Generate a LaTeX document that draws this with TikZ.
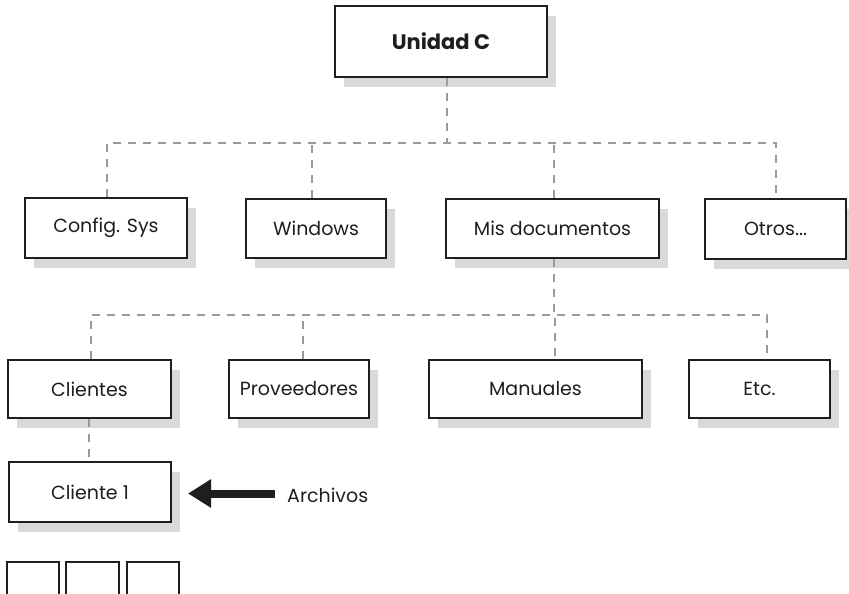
\documentclass[tikz,border=0pt]{standalone}
\usepackage{fontspec}
\setmainfont{Poppins}
\usetikzlibrary{shadows,arrows.meta}
\definecolor{inkc}{HTML}{1E1E1E}
\definecolor{shadowc}{HTML}{D9D9DA}
\definecolor{linec}{HTML}{9A9A9A}
\tikzset{
  box/.style={draw=inkc, line width=2pt, fill=white, inner sep=0pt, text=inkc,
    font=\fontsize{19}{21}\selectfont,
    general shadow={fill=shadowc, shadow xshift=9pt, shadow yshift=-10pt}},
  plainbox/.style={draw=inkc, line width=2pt, fill=white, inner sep=0pt},
  conn/.style={draw=linec, line width=1.4pt, dash pattern=on 8pt off 7pt},
  bigarrow/.style={draw=inkc, line width=8pt, -{Triangle[length=23pt,width=27pt]}},
  lbl/.style={text=inkc, inner sep=0pt, font=\fontsize{19}{21}\selectfont}
}
\begin{document}
\begin{tikzpicture}[x=1pt,y=-1pt]
\useasboundingbox (0,0) rectangle (849,594);
% top
\node[box, minimum width=212pt, minimum height=71pt, font=\fontsize{21}{23}\selectfont\bfseries] (unidad) at (441,41.5) {Unidad C};
% level 1
\node[box, minimum width=162pt, minimum height=60pt] (config) at (106,228) {Config. Sys};
\node[box, minimum width=140pt, minimum height=59pt] (windows) at (316,228.5) {Windows};
\node[box, minimum width=213pt, minimum height=59pt] (misdoc) at (552.5,228.5) {Mis documentos};
\node[box, minimum width=141pt, minimum height=60pt] (otros) at (775.5,229) {Otros...};
% level 2
\node[box, minimum width=163pt, minimum height=58pt] (clientes) at (89.5,389) {Clientes};
\node[box, minimum width=140pt, minimum height=58pt] (proveedores) at (299,389) {Proveedores};
\node[box, minimum width=213pt, minimum height=58pt] (manuales) at (535.5,389) {Manuales};
\node[box, minimum width=141pt, minimum height=58pt] (etc) at (759.5,389) {Etc.};
% level 3
\node[box, minimum width=162pt, minimum height=60pt] (cliente1) at (90,492) {Cliente 1};
% small boxes
\node[plainbox, minimum width=52pt, minimum height=60pt] (f1) at (33,592) {};
\node[plainbox, minimum width=53pt, minimum height=60pt] (f2) at (92.5,592) {};
\node[plainbox, minimum width=52pt, minimum height=60pt] (f3) at (153,592) {};
% connectors level 0-1
\coordinate (b1) at (447,143);
\draw[conn] (unidad.south -| b1) -- (b1);
\draw[conn] (config.north -| 107,0) -- (107,143) -- (776,143) -- (otros.north -| 776,0);
\draw[conn] (windows.north -| 312,0) -- (312,143);
\draw[conn] (misdoc.north -| 554,0) -- (554,143);
% connectors level 1-2
\draw[conn] (misdoc.south -| 554,0) -- (554,315) -- (555,315) -- (manuales.north -| 555,0);
\draw[conn] (clientes.north -| 91,0) -- (91,315) -- (767,315) -- (etc.north -| 767,0);
\draw[conn] (proveedores.north -| 303,0) -- (303,315);
% clientes - cliente1
\draw[conn] (clientes.south -| 89,0) -- (cliente1.north -| 89,0);
% arrow
\node[lbl, anchor=west] (archivos) at (287,495) {Archivos};
\draw[bigarrow] ([xshift=-12pt,yshift=1.5pt]archivos.west) -- ([xshift=16pt,yshift=-1.5pt]cliente1.east);
\end{tikzpicture}
\end{document}
